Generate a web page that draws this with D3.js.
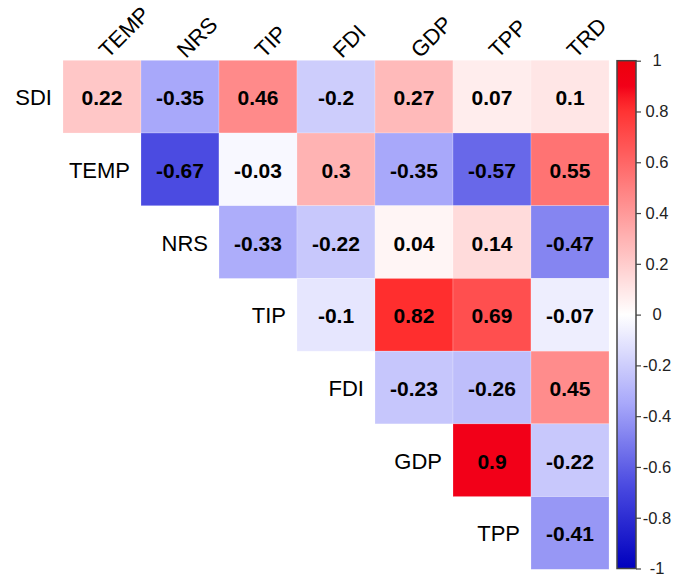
<!DOCTYPE html>
<html lang="en">
<head>
    <meta charset="UTF-8">
    <title>Correlation Matrix</title>
    <style>
        body { margin: 0; background: #fff; font-family: Arial, "Liberation Sans", sans-serif; }
        svg { display: block; }
    </style>
</head>
<body>
    <div id="chart"></div>
    <script src="https://cdnjs.cloudflare.com/ajax/libs/d3/7.8.5/d3.min.js"></script>
    <script>
        // variables
        const rowVars = ["SDI", "TEMP", "NRS", "TIP", "FDI", "GDP", "TPP"];
        const colVars = ["TEMP", "NRS", "TIP", "FDI", "GDP", "TPP", "TRD"];

        // upper triangle, row by row (row i starts at column i)
        const sdiRow  = [0.22, -0.35, 0.46, -0.2, 0.27, 0.07, 0.1];
        const tempRow = [-0.67, -0.03, 0.3, -0.35, -0.57, 0.55];
        const nrsRow  = [-0.33, -0.22, 0.04, 0.14, -0.47];
        const tipRow  = [-0.1, 0.82, 0.69, -0.07];
        const fdiRow  = [-0.23, -0.26, 0.45];
        const gdpRow  = [0.9, -0.22];
        const tppRow  = [-0.41];
        const corRows = [sdiRow, tempRow, nrsRow, tipRow, fdiRow, gdpRow, tppRow];

        const legendTicks = [1, 0.8, 0.6, 0.4, 0.2, 0, -0.2, -0.4, -0.6, -0.8, -1];

        const W = 683, H = 574;
        const svg = d3.select("#chart").append("svg")
            .attr("width", W)
            .attr("height", H);

        const x = d3.scaleBand().domain(colVars).range([63, 609]);
        const y = d3.scaleBand().domain(rowVars).range([60.3, 569.3]);

        // blue - white - red, blue side darkens toward -1, red side deepens past 0.85
        const color = d3.scaleLinear()
            .domain([-1, -0.67, -0.35, 0, 0.82, 0.9, 1])
            .range(["#0000be", "#4b4be1", "#a8a8fa", "#ffffff", "#ff2e2e", "#f20018", "#ec000c"]);

        // flatten to cells
        const cells = [];
        corRows.forEach((vals, i) => {
            vals.forEach((v, k) => {
                cells.push({ row: rowVars[i], col: colVars[i + k], value: v });
            });
        });

        svg.append("g").selectAll("rect")
            .data(cells)
            .enter()
            .append("rect")
            .attr("x", d => x(d.col))
            .attr("y", d => y(d.row))
            .attr("width", x.bandwidth())
            .attr("height", y.bandwidth())
            .attr("fill", d => color(d.value))
            .attr("stroke", "#fff")
            .attr("stroke-opacity", 0.35)
            .attr("stroke-width", 0.6);

        svg.append("g").selectAll("text")
            .data(cells)
            .enter()
            .append("text")
            .attr("x", d => x(d.col) + x.bandwidth() / 2)
            .attr("y", d => y(d.row) + y.bandwidth() / 2 + 1)
            .attr("text-anchor", "middle")
            .attr("dominant-baseline", "central")
            .attr("font-size", 21)
            .attr("font-weight", "bold")
            .attr("fill", "#000")
            .text(d => d.value);

        // row labels (left of each row's first cell)
        svg.append("g").selectAll("text")
            .data(rowVars)
            .enter()
            .append("text")
            .attr("x", (d, i) => x(colVars[i]) - 11)
            .attr("y", d => y(d) + y.bandwidth() / 2 + 1)
            .attr("text-anchor", "end")
            .attr("dominant-baseline", "central")
            .attr("font-size", 22)
            .attr("fill", "#000")
            .text(d => d);

        // column labels, rotated
        svg.append("g").selectAll("text")
            .data(colVars)
            .enter()
            .append("text")
            .attr("transform", d => `translate(${x(d) + x.bandwidth() / 2 + 6},59) rotate(-45)`)
            .attr("text-anchor", "start")
            .attr("font-size", 22)
            .attr("fill", "#000")
            .text(d => d);

        // colour legend
        const legY = d3.scaleLinear().domain([-1, 1]).range([568.5, 60.7]);
        const legX = 617, legW = 19;

        const grad = svg.append("defs").append("linearGradient")
            .attr("id", "corGrad")
            .attr("x1", 0).attr("y1", 1)
            .attr("x2", 0).attr("y2", 0);
        d3.range(-1, 1.0001, 0.05).forEach(v => {
            grad.append("stop")
                .attr("offset", (v + 1) / 2)
                .attr("stop-color", color(v));
        });

        svg.append("rect")
            .attr("x", legX)
            .attr("y", legY(1))
            .attr("width", legW)
            .attr("height", legY(-1) - legY(1))
            .attr("fill", "url(#corGrad)")
            .attr("stroke", "#444")
            .attr("stroke-width", 1.5);

        const legAxis = svg.append("g")
            .attr("transform", `translate(${legX + legW},0)`)
            .call(d3.axisRight(legY).tickValues(legendTicks).tickSize(5).tickFormat(d => d));
        legAxis.select(".domain").remove();
        legAxis.selectAll(".tick line").attr("stroke", "#444").attr("stroke-width", 1.2);
        legAxis.selectAll(".tick text")
            .attr("x", 21)
            .attr("text-anchor", "middle")
            .attr("font-size", 16.5)
            .attr("font-family", "Arial, 'Liberation Sans', sans-serif")
            .attr("fill", "#222");
    </script>
</body>
</html>
